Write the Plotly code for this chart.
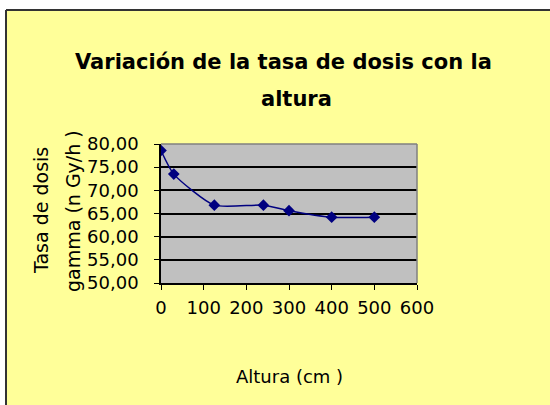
import plotly.graph_objects as go

altura_cm = [0, 30, 125, 240, 300, 400, 500]
tasa_dosis = [78.6, 73.5, 66.8, 66.8, 65.6, 64.2, 64.2]

y_ticks = [50, 55, 60, 65, 70, 75, 80]
y_labels = ["50,00", "55,00", "60,00", "65,00", "70,00", "75,00", "80,00"]
x_ticks = [0, 100, 200, 300, 400, 500, 600]

FONT = "DejaVu Sans, Verdana, sans-serif"
YELLOW = "#FFFF99"

# plot area in pixels: x 161..417, y 144..283
L, R, T, B = 161, 133, 144, 122
W, H = 550 - L - R, 405 - T - B


def px_x(p):
    return (p - L) / W


def px_y(p):
    return (405 - B - p) / H


def label(text, x, y, size, angle=0):
    return dict(text=text, x=px_x(x), y=px_y(y), xref="paper", yref="paper",
                xanchor="center", yanchor="middle", textangle=angle,
                showarrow=False, font=dict(size=size))


fig = go.Figure(go.Scatter(
    x=altura_cm,
    y=tasa_dosis,
    mode="lines+markers",
    line=dict(color="#000080", width=1.5, shape="spline", smoothing=0.6),
    marker=dict(symbol="diamond", size=9, color="#000080"),
    showlegend=False,
))

fig.update_layout(
    width=550, height=405,
    margin=dict(l=L, r=R, t=T, b=B),
    paper_bgcolor=YELLOW,
    plot_bgcolor="#C0C0C0",
    font=dict(family=FONT, color="black", size=18),
    xaxis=dict(
        range=[0, 600], tickvals=x_ticks, showgrid=False, zeroline=False,
        showline=True, linecolor="black", linewidth=1.5,
        ticks="outside", ticklen=5, tickcolor="black",
        ticklabelstandoff=3, tickfont=dict(size=18),
        fixedrange=True,
    ),
    yaxis=dict(
        range=[50, 80], tickvals=y_ticks, ticktext=y_labels,
        showgrid=True, gridcolor="black", gridwidth=1.5, zeroline=False,
        showline=True, linecolor="black", linewidth=1.5,
        ticks="outside", ticklen=5, tickcolor="black",
        ticklabelstandoff=12, tickfont=dict(size=18),
        fixedrange=True,
    ),
    shapes=[
        # white strips outside the chart frame
        dict(type="rect", xref="paper", yref="paper",
             x0=px_x(-5), x1=px_x(560), y0=px_y(10), y1=px_y(-5),
             fillcolor="white", line=dict(width=0)),
        dict(type="rect", xref="paper", yref="paper",
             x0=px_x(-5), x1=px_x(6), y0=px_y(415), y1=px_y(-5),
             fillcolor="white", line=dict(width=0)),
        dict(type="line", xref="paper", yref="paper",
             x0=px_x(6), x1=px_x(560), y0=px_y(10), y1=px_y(10),
             line=dict(color="#333333", width=2)),
        dict(type="line", xref="paper", yref="paper",
             x0=px_x(6), x1=px_x(6), y0=px_y(10), y1=px_y(415),
             line=dict(color="#333333", width=2)),
        # plot area frame, top and right
        dict(type="line", xref="paper", yref="paper",
             x0=0, x1=1, y0=1, y1=1, line=dict(color="#808080", width=1.5)),
        dict(type="line", xref="paper", yref="paper",
             x0=1, x1=1, y0=0, y1=1, line=dict(color="#808080", width=1.5)),
    ],
    annotations=[
        label("<b>Variación de la tasa de dosis con la</b>", 283, 62, 21),
        label("<b>altura</b>", 296, 99, 21),
        label("Tasa de dosis", 41, 211, 19, -90),
        label("gamma (n Gy/h )", 73, 211, 19, -90),
        label("Altura (cm )", 289, 376, 18),
    ],
)

fig.write_html("out.html", config={"displayModeBar": False},
               post_script="document.body.style.margin='0';")
